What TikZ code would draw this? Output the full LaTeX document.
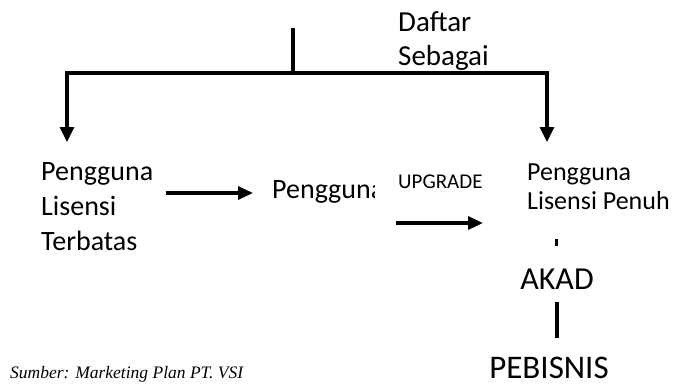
\documentclass[tikz,border=0pt]{standalone}
\usepackage{fontspec}
\setmainfont{Carlito}
\newfontfamily\timesfont{Liberation Serif}
\usetikzlibrary{arrows.meta}
\tikzset{
  lbl/.style={inner sep=0pt, anchor=base west},
  conn/.style={line width=3.2pt, line join=miter},
  arr/.style={conn, -{Triangle[width=14pt,length=15pt]}},
  arrsm/.style={conn, -{Triangle[width=13pt,length=15pt]}}
}
\begin{document}
\begin{tikzpicture}[x=1pt,y=-1pt]
\useasboundingbox (0,0) rectangle (673,391);
% top labels
\node[lbl, font=\fontsize{29}{35}\selectfont] (daftar) at (398,31) {Daftar};
\node[lbl, font=\fontsize{29}{35}\selectfont] (sebagai) at (398,65) {Sebagai};
% left labels
\node[lbl, font=\fontsize{28}{36}\selectfont] (l1) at (41,180) {Pengguna};
\node[lbl, font=\fontsize{28}{36}\selectfont] (l2) at (41,215) {Lisensi};
\node[lbl, font=\fontsize{28}{36}\selectfont] (l3) at (41,250) {Terbatas};
% middle label (clipped)
\begin{scope}
  \clip (260,150) rectangle (374.5,240);
  \node[lbl, font=\fontsize{28}{36}\selectfont] (mid) at (272,198) {Pengguna};
\end{scope}
\node[lbl, font=\fontsize{21}{25}\selectfont] (upg) at (398,188) {UPGRADE};
% right labels
\node[lbl, font=\fontsize{26}{30}\selectfont] (r1) at (527,180) {Pengguna};
\node[lbl, font=\fontsize{26}{30}\selectfont] (r2) at (527,209) {Lisensi Penuh};
\node[inner sep=0pt, anchor=base, font=\fontsize{32}{38}\selectfont] (akad) at (557,289) {AKAD};
\node[inner sep=0pt, anchor=base, font=\fontsize{33}{40}\selectfont] (peb) at (549,378) {PEBISNIS};
% source
\node[lbl, font=\timesfont\itshape\fontsize{17.5}{20}\selectfont] (src) at (10,378) {Sumber: Marketing Plan PT. VSI};
% connector coordinates
\coordinate (top) at (293,28);
\coordinate (jm) at (293,73);
\coordinate (la) at (67,142);
\coordinate (ra) at (547,142);
\coordinate (a1s) at (166,193);
\coordinate (a1e) at (253,193);
\coordinate (a2s) at (396,223);
\coordinate (a2e) at (483,223);
\coordinate (ds) at (556,239);
\coordinate (de) at (556,246);
\coordinate (bs) at (557,302);
\coordinate (be) at (557,338);
% connectors
\draw[conn] (top) -- (jm);
\draw[arr] (jm) -| (la);
\draw[arr] (jm) -| (ra);
\draw[arrsm] (a1s) -- (a1e);
\draw[arrsm] (a2s) -- (a2e);
\draw[line width=3pt] (ds) -- (de);
\draw[line width=3.5pt] (bs) -- (be);
\end{tikzpicture}
\end{document}
